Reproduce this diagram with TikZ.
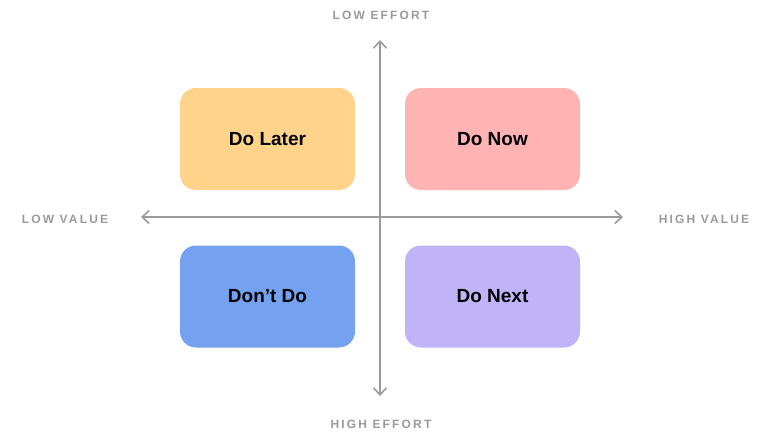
\documentclass[tikz,border=0pt]{standalone}
\usepackage{fontspec}
\setmainfont{Liberation Sans}
\newfontfamily\spaced[LetterSpace=18]{Liberation Sans}
\usetikzlibrary{arrows.meta}
\definecolor{ax}{HTML}{9A9A9A}
\definecolor{cLater}{HTML}{FFD38A}
\definecolor{cNow}{HTML}{FFB3B3}
\definecolor{cDont}{HTML}{74A1F0}
\definecolor{cNext}{HTML}{C0B3F7}
\begin{document}
\begin{tikzpicture}[x=1pt,y=-1pt,
  box/.style={rounded corners=16pt,minimum width=175pt,minimum height=102pt,inner sep=0pt,font=\fontsize{19}{22}\selectfont\bfseries},
  lab/.style={text=ax,font=\fontsize{12}{14}\selectfont\spaced\bfseries,inner sep=0pt},
  axis/.style={draw=ax,line width=1.6pt,-{Straight Barb[length=7pt,width=13pt]}}]
\useasboundingbox (0,0) rectangle (768,442);
\coordinate (c) at (380,217);
\coordinate (t) at (380,40);
\coordinate (b) at (380,396);
\coordinate (l) at (141,217);
\coordinate (r) at (623,217);
\draw[axis] (c) -- (t);
\draw[axis] (c) -- (b);
\draw[axis] (c) -- (l);
\draw[axis] (c) -- (r);
\node[box,fill=cLater] (later) at (267.5,139) {Do Later};
\node[box,fill=cNow] (now) at (492.5,139) {Do Now};
\node[box,fill=cDont] (dont) at (267.5,296.5) {Don’t Do};
\node[box,fill=cNext] (next) at (492.5,296.5) {Do Next};
\node[lab] (le) at (381,15) {LOW EFFORT};
\node[lab] (he) at (381,424) {HIGH EFFORT};
\node[lab] (lv) at (65,219) {LOW VALUE};
\node[lab] (hv) at (704,219) {HIGH VALUE};
\end{tikzpicture}
\end{document}
